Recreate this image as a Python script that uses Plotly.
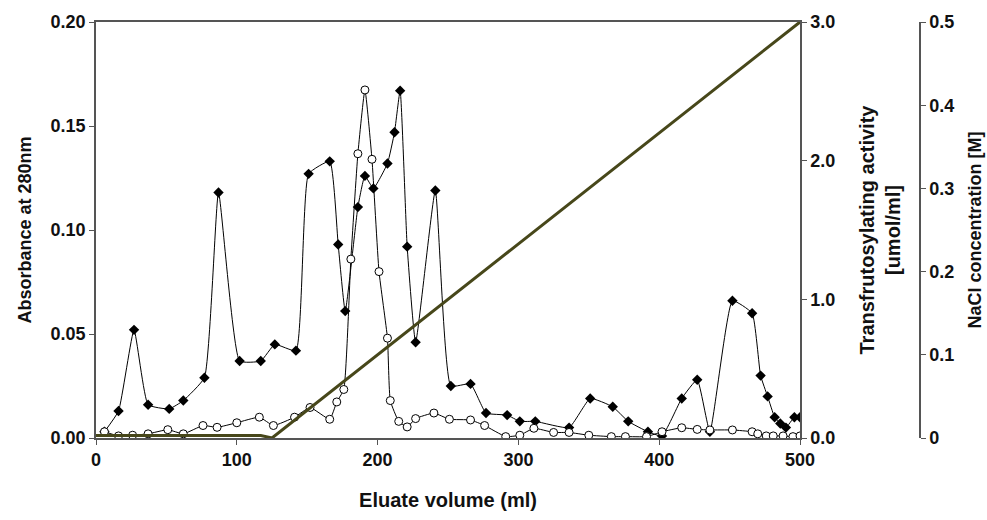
import plotly.graph_objects as go

# Absorbance at 280 nm (filled diamonds)
abs_x = [6, 16, 27, 37, 52, 62, 77, 87, 102, 117, 127, 142, 151, 166, 172, 177,
         186, 191, 197, 207, 212, 216, 221, 227, 241, 252, 266, 277, 292, 301,
         312, 336, 351, 367, 378, 392, 402, 416, 427, 436, 452, 466, 472, 477,
         482, 486, 490, 496, 500]
abs_y = [0.003, 0.013, 0.052, 0.016, 0.014, 0.018, 0.029, 0.118, 0.037, 0.037,
         0.045, 0.042, 0.127, 0.133, 0.093, 0.061, 0.111, 0.126, 0.120, 0.132,
         0.147, 0.167, 0.092, 0.046, 0.119, 0.025, 0.026, 0.012, 0.011, 0.008,
         0.008, 0.005, 0.019, 0.015, 0.008, 0.003, 0.001, 0.019, 0.028, 0.003,
         0.066, 0.060, 0.030, 0.020, 0.010, 0.007, 0.005, 0.010, 0.010]

# Transfructosylating activity [umol/ml] (open circles)
act_x = [6, 16, 26, 37, 51, 62, 76, 86, 100, 116, 126, 141, 152, 166, 171, 176,
         181, 186, 191, 196, 201, 207, 209, 215, 221, 227, 240, 251, 266, 276,
         291, 301, 311, 325, 336, 350, 366, 376, 391, 402, 416, 427, 436, 452,
         466, 470, 476, 481, 488, 495, 500]
act_y = [0.045, 0.015, 0.02, 0.03, 0.06, 0.03, 0.09, 0.077, 0.11, 0.15, 0.09,
         0.15, 0.22, 0.135, 0.26, 0.35, 1.29, 2.05, 2.51, 2.01, 1.20, 0.72, 0.27,
         0.12, 0.08, 0.14, 0.18, 0.135, 0.13, 0.09, 0.01, 0.02, 0.07, 0.04, 0.04,
         0.02, 0.01, 0.01, 0.01, 0.045, 0.074, 0.062, 0.058, 0.058, 0.045, 0.03,
         0.015, 0.015, 0.015, 0.01, 0.015]

# NaCl gradient [M]
nacl_x = [0, 117, 125, 500]
nacl_y = [0.003, 0.003, 0.0, 0.5]

x_ticks = [0, 100, 200, 300, 400, 500]

FONT = "Liberation Sans, Arial, sans-serif"
AX = "#555555"
INK = "#111111"
W, H = 987, 520
ML, MR, MT, MB = 96, 12, 22, 82
paper_w = W - ML - MR
x_end = 704 / paper_w
y3_pos = (920 - ML) / paper_w

tickf = dict(family=FONT, size=18, color=INK, weight="bold")

fig = go.Figure()
fig.add_trace(go.Scatter(
    x=abs_x, y=abs_y, mode="lines+markers", yaxis="y",
    line=dict(color="black", width=1, shape="spline", smoothing=0.4),
    marker=dict(symbol="diamond", size=8, color="black"),
    name="Absorbance"))
fig.add_trace(go.Scatter(
    x=act_x, y=act_y, mode="lines+markers", yaxis="y2",
    line=dict(color="black", width=1, shape="spline", smoothing=0.4),
    marker=dict(symbol="circle", size=8, color="white",
                line=dict(color="black", width=1)),
    name="Activity"))
fig.add_trace(go.Scatter(
    x=nacl_x, y=nacl_y, mode="lines", yaxis="y3",
    line=dict(color="#47471a", width=3),
    name="NaCl"))

fig.update_layout(
    width=W, height=H,
    margin=dict(l=ML, r=MR, t=MT, b=MB, autoexpand=False),
    paper_bgcolor="white", plot_bgcolor="white",
    showlegend=False,
    xaxis=dict(
        domain=[0, x_end], range=[0, 500], tickvals=x_ticks, automargin=False,
        showgrid=False, zeroline=False, showline=True, linecolor=AX,
        linewidth=1.5, mirror=True, ticks="outside", ticklen=5,
        tickcolor=AX, tickfont=tickf,
        title=dict(text="Eluate volume (ml)",
                   font=dict(family=FONT, size=20, color=INK, weight="bold"),
                   standoff=24)),
    yaxis=dict(
        range=[0, 0.2], dtick=0.05, tickformat=".2f", automargin=False,
        showgrid=False, zeroline=False, showline=True, linecolor=AX,
        linewidth=1.5, ticks="outside", ticklen=5, tickcolor=AX,
        tickfont=tickf,
        title=dict(text="Absorbance at 280nm",
                   font=dict(family=FONT, size=18, color=INK, weight="bold"),
                   standoff=14)),
    yaxis2=dict(
        range=[0, 3.0], dtick=1.0, tickformat=".1f", overlaying="y",
        side="right", anchor="x", automargin=False,
        showgrid=False, zeroline=False, showline=True, linecolor=AX,
        linewidth=1.5, ticks="outside", ticklen=5, tickcolor=AX,
        tickfont=tickf,
        title=dict(text="Transfrutosylating activity<br>[umol/ml]",
                   font=dict(family=FONT, size=20, color=INK, weight="bold"),
                   standoff=26)),
    yaxis3=dict(
        range=[0, 0.5], dtick=0.1, overlaying="y", side="right",
        anchor="free", position=y3_pos, automargin=False,
        showgrid=False, zeroline=False, showline=True, linecolor=AX,
        linewidth=1.5, ticks="outside", ticklen=5, tickcolor=AX,
        tickfont=tickf,
        title=dict(text="NaCl concentration [M]",
                   font=dict(family=FONT, size=18, color=INK, weight="bold"),
                   standoff=14)),
)

fig.write_html("out.html")
